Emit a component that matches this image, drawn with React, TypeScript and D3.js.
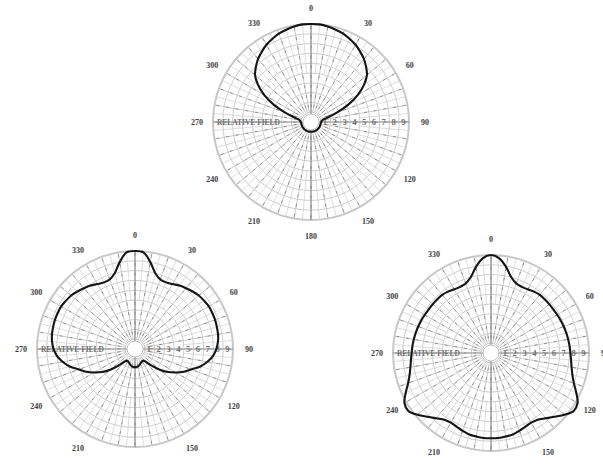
import React from "react";
import * as d3 from "d3";

// Bearing of every sample, degrees clockwise from north
const ANGLES = [
  0, 5, 10, 15, 20, 25, 30, 35, 40, 45, 50, 55, 60, 65, 70, 75, 80, 85,
  90, 95, 100, 105, 110, 115, 120, 125, 130, 135, 140, 145, 150, 155, 160, 165, 170, 175,
  180, 185, 190, 195, 200, 205, 210, 215, 220, 225, 230, 235, 240, 245, 250, 255, 260, 265,
  270, 275, 280, 285, 290, 295, 300, 305, 310, 315, 320, 325, 330, 335, 340, 345, 350, 355,
];

// Relative field, upper pattern (cardioid-like single lobe)
const FIELD_TOP = [
  1.0, 1.0, 0.99, 0.975, 0.96, 0.935, 0.91, 0.875, 0.84, 0.795, 0.745, 0.66, 0.55, 0.42, 0.28, 0.17, 0.12, 0.11,
  0.105, 0.1, 0.1, 0.1, 0.1, 0.1, 0.1, 0.1, 0.1, 0.1, 0.1, 0.1, 0.1, 0.1, 0.1, 0.1, 0.1, 0.1,
  0.1, 0.1, 0.1, 0.1, 0.1, 0.1, 0.1, 0.1, 0.1, 0.1, 0.1, 0.1, 0.1, 0.1, 0.1, 0.1, 0.1, 0.1,
  0.105, 0.11, 0.12, 0.17, 0.28, 0.42, 0.55, 0.66, 0.745, 0.795, 0.84, 0.875, 0.91, 0.935, 0.96, 0.975, 0.99, 1.0,
];

// Relative field, lower-left pattern (three-lobed, deep null to the rear)
const FIELD_LEFT = [
  1.0, 0.99, 0.9, 0.8, 0.755, 0.75, 0.765, 0.79, 0.81, 0.83, 0.85, 0.86, 0.87, 0.87, 0.87, 0.865, 0.86, 0.85,
  0.83, 0.8, 0.75, 0.69, 0.61, 0.55, 0.48, 0.41, 0.33, 0.24, 0.17, 0.145, 0.145, 0.15, 0.16, 0.17, 0.18, 0.185,
  0.185, 0.185, 0.18, 0.17, 0.16, 0.15, 0.145, 0.145, 0.17, 0.24, 0.33, 0.41, 0.48, 0.55, 0.61, 0.69, 0.75, 0.8,
  0.83, 0.85, 0.86, 0.865, 0.87, 0.87, 0.87, 0.86, 0.85, 0.83, 0.81, 0.79, 0.765, 0.75, 0.755, 0.8, 0.9, 0.99,
];

// Relative field, lower-right pattern (lobes at 0, 120 and 240 degrees)
const FIELD_RIGHT = [
  1.0, 0.97, 0.89, 0.8, 0.755, 0.745, 0.75, 0.765, 0.775, 0.775, 0.775, 0.775, 0.78, 0.785, 0.79, 0.795, 0.8, 0.805,
  0.81, 0.82, 0.835, 0.86, 0.9, 0.96, 1.02, 1.03, 0.98, 0.92, 0.87, 0.83, 0.82, 0.83, 0.845, 0.86, 0.865, 0.87,
  0.87, 0.87, 0.865, 0.86, 0.845, 0.83, 0.82, 0.83, 0.87, 0.92, 0.98, 1.03, 1.02, 0.96, 0.9, 0.86, 0.835, 0.82,
  0.81, 0.805, 0.8, 0.795, 0.79, 0.785, 0.78, 0.775, 0.775, 0.775, 0.775, 0.765, 0.75, 0.745, 0.755, 0.8, 0.89, 0.97,
];

// Bearing labels around the rim
const BEARING_LABELS = ["0", "30", "60", "90", "120", "150", "180", "210", "240", "270", "300", "330"];
const BEARING_VALUES = [0, 30, 60, 90, 120, 150, 180, 210, 240, 270, 300, 330];

// Ring labels along the 90-degree radius
const RING_LABELS = ["1", "2", "3", "4", "5", "6", "7", "8", "9"];
const RING_VALUES = [0.1, 0.2, 0.3, 0.4, 0.5, 0.6, 0.7, 0.8, 0.9];

const AXIS_TITLE = "RELATIVE FIELD";

const W = 603;
const H = 465;
const OUTER = 98;
const LABEL_R = 114;
const SERIF = "'Liberation Serif', 'DejaVu Serif', serif";

const PANELS = [
  { key: "top", cx: 311, cy: 122, field: FIELD_TOP },
  { key: "left", cx: 135, cy: 349, field: FIELD_LEFT },
  { key: "right", cx: 491, cy: 353, field: FIELD_RIGHT },
];

const rScale = d3.scaleLinear().domain([0, 1]).range([0, OUTER]);
const aScale = d3.scaleLinear().domain([0, 360]).range([0, 2 * Math.PI]);

const pattern = d3
  .lineRadial<number>()
  .angle((_, i) => aScale(ANGLES[i]))
  .radius((v) => rScale(v))
  .curve(d3.curveCatmullRomClosed.alpha(0.5));

const rings = d3.range(1, 11).map((k) => k / 10);
const spokes10 = d3.range(0, 360, 10);
const spokes5 = d3.range(5, 360, 10);

function polar(deg: number, r: number): [number, number] {
  const a = aScale(deg);
  return [r * Math.sin(a), -r * Math.cos(a)];
}

function PolarPanel({ cx, cy, field }: { cx: number; cy: number; field: number[] }) {
  return (
    <g transform={`translate(${cx},${cy})`}>
      {/* grid rings */}
      {rings.map((v) => (
        <circle key={`c${v}`} r={rScale(v)} fill="none" stroke={v === 1 ? "#c8c8c8" : "#c2c2c2"} strokeWidth={v === 1 ? 2 : 0.8} />
      ))}
      {/* 10-degree spokes */}
      {spokes10.map((d) => {
        const [x1, y1] = polar(d, rScale(0.1));
        const [x2, y2] = polar(d, rScale(1));
        return <line key={`s${d}`} x1={x1} y1={y1} x2={x2} y2={y2} stroke="#bdbdbd" strokeWidth={0.8} />;
      })}
      {/* dark dashed overprint on the spokes */}
      {spokes10.map((d) => {
        const [x1, y1] = polar(d, rScale(0.15));
        const [x2, y2] = polar(d, rScale(1));
        return (
          <line key={`sd${d}`} x1={x1} y1={y1} x2={x2} y2={y2} stroke="#7f7f7f" strokeWidth={0.8} strokeDasharray="3 6.8" />
        );
      })}
      {/* intermediate 5-degree spokes in the outer band */}
      {spokes5.map((d) => {
        const [x1, y1] = polar(d, rScale(0.5));
        const [x2, y2] = polar(d, rScale(1));
        return <line key={`f${d}`} x1={x1} y1={y1} x2={x2} y2={y2} stroke="#cfcfcf" strokeWidth={0.7} />;
      })}
      {/* main axes */}
      <line x1={0} y1={-rScale(1)} x2={0} y2={rScale(1)} stroke="#7a7a7a" strokeWidth={0.9} />
      <line x1={-rScale(1)} y1={0} x2={rScale(1)} y2={0} stroke="#9a9a9a" strokeWidth={1.1} />
      {/* centre disc */}
      <circle r={8} fill="#fff" stroke="#b0b0b0" strokeWidth={0.8} />
      {/* axis title on the left radius */}
      <text
        x={-rScale(0.96)}
        y={0}
        dy="0.35em"
        textLength={63}
        lengthAdjust="spacingAndGlyphs"
        fontFamily={SERIF}
        fontSize={8.5}
        fill="#707070"
        fontWeight="bold"
      >
        {AXIS_TITLE}
      </text>
      {/* ring values */}
      {RING_LABELS.map((t, i) => (
        <text key={t} x={rScale(RING_VALUES[i]) + 2} y={0} dy="0.35em" fontFamily={SERIF} fontSize={8.5} fontWeight="bold" fill="#707070">
          {t}
        </text>
      ))}
      {/* radiation pattern */}
      <path d={pattern(field) || ""} fill="none" stroke="#151515" strokeWidth={2.1} strokeLinejoin="round" />
      {/* bearing labels (those falling below the sheet edge are not printed) */}
      {BEARING_LABELS.map((t, i) => {
        const [x, y] = polar(BEARING_VALUES[i], LABEL_R);
        if (cy + y + 4 > H) return null;
        return (
          <text key={t} x={x} y={y} dy="0.35em" textAnchor="middle" fontFamily={SERIF} fontSize={8} fontWeight="bold" fill="#404040">
            {t}
          </text>
        );
      })}
    </g>
  );
}

export default function App() {
  return (
    <svg width={W} height={H} viewBox={`0 0 ${W} ${H}`} style={{ position: "absolute", left: 0, top: 0, background: "#fff" }}>
      <rect width={W} height={H} fill="#fff" />
      {PANELS.map((p) => (
        <PolarPanel key={p.key} cx={p.cx} cy={p.cy} field={p.field} />
      ))}
    </svg>
  );
}
